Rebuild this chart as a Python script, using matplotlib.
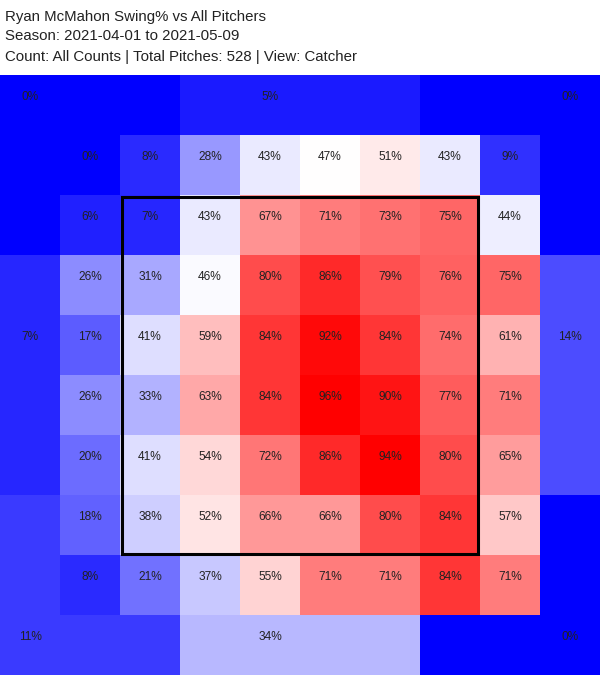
import matplotlib
matplotlib.use("Agg")
import matplotlib.pyplot as plt
import numpy as np
from matplotlib.colors import LinearSegmentedColormap, TwoSlopeNorm
from matplotlib.patches import Rectangle

player = "Ryan McMahon"
season = "2021-04-01 to 2021-05-09"
count_label = "All Counts"
total_pitches = 528
view = "Catcher"

# swing% in the 8x8 inner grid (catcher view, top row first)
swing_pct = [
    [0, 8, 28, 43, 47, 51, 43, 9],
    [6, 7, 43, 67, 71, 73, 75, 44],
    [26, 31, 46, 80, 86, 79, 76, 75],
    [17, 41, 59, 84, 92, 84, 74, 61],
    [26, 33, 63, 84, 96, 90, 77, 71],
    [20, 41, 54, 72, 86, 94, 80, 65],
    [18, 38, 52, 66, 66, 80, 84, 57],
    [8, 21, 37, 55, 71, 71, 84, 71],
]

# swing% of the outer (chase) zones
outer_names = ["top_left", "top", "top_right", "left", "right",
               "bottom_left", "bottom", "bottom_right"]
outer_pct = [0, 5, 0, 7, 14, 11, 34, 0]

# cells (row, col) of the 10x10 board covered by each outer zone,
# first cell is where the label goes
outer_cells = {
    "top_left": [(0, 0), (0, 1), (0, 2), (1, 0), (2, 0)],
    "top": [(0, 4), (0, 3), (0, 5), (0, 6)],
    "top_right": [(0, 9), (0, 7), (0, 8), (1, 9), (2, 9)],
    "left": [(4, 0), (3, 0), (5, 0), (6, 0)],
    "right": [(4, 9), (3, 9), (5, 9), (6, 9)],
    "bottom_left": [(9, 0), (7, 0), (8, 0), (9, 1), (9, 2)],
    "bottom": [(9, 4), (9, 3), (9, 5), (9, 6)],
    "bottom_right": [(9, 9), (7, 9), (8, 9), (9, 7), (9, 8)],
}

# build the full board
board = np.zeros((10, 10))
board[1:9, 1:9] = np.array(swing_pct)
labels = []
for r in range(8):
    for c in range(8):
        labels.append((r + 1, c + 1, swing_pct[r][c]))
for name, val in zip(outer_names, outer_pct):
    cells = outer_cells[name]
    for (r, c) in cells:
        board[r, c] = val
    labels.append((cells[0][0], cells[0][1], val))

cmap = LinearSegmentedColormap.from_list("swing", ["#0000ff", "#ffffff", "#ff0000"])
norm = TwoSlopeNorm(vmin=0, vcenter=47, vmax=94)

plt.rcParams["font.family"] = ["Liberation Sans", "DejaVu Sans"]

fig = plt.figure(figsize=(6, 6.75), dpi=100)
ax = fig.add_axes([0, 0, 1, 600 / 675])
ax.imshow(board, cmap=cmap, norm=norm, extent=(0, 10, 10, 0),
          interpolation="nearest", aspect="auto")
ax.set_xlim(0, 10)
ax.set_ylim(10, 0)
ax.axis("off")

for r, c, val in labels:
    ax.text(c + 0.5, r + 0.425, f"{val}%", ha="center", va="baseline",
            fontsize=8.6, color="#222222")

# strike zone
ax.add_patch(Rectangle((2.025, 2.025), 5.95, 5.95, fill=False,
                       edgecolor="black", linewidth=2.2))

# title block
title_lines = [
    f"{player} Swing% vs All Pitchers",
    f"Season: {season}",
    f"Count: {count_label} | Total Pitches: {total_pitches} | View: {view}",
]
for i, line in enumerate(title_lines):
    fig.text(5 / 600, 1 - (20.5 + 20 * i) / 675, line, ha="left",
             va="baseline", fontsize=10.8, color="#222222")

fig.savefig("out.png", dpi=100)
